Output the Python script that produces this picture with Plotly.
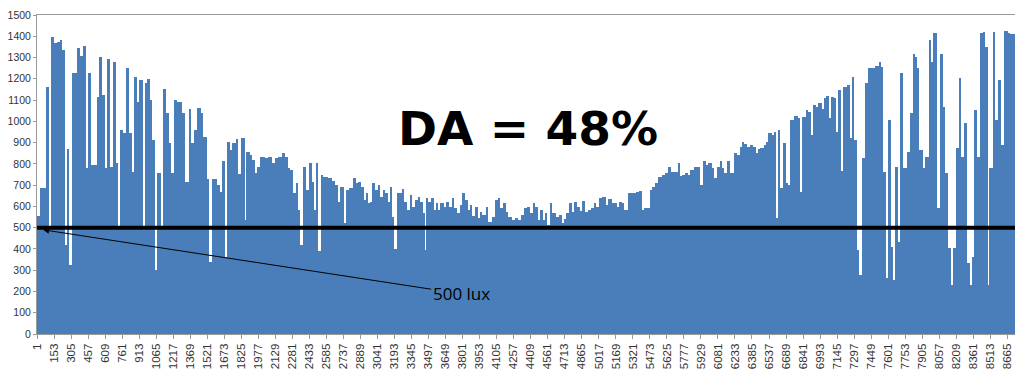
import plotly.graph_objects as go

# Hourly illuminance (lux), as runs: each run starts at the given hour
run_start_hour = [
    1, 28, 81, 108, 126, 153, 180, 206, 224, 251,
    269, 287, 314, 358, 385, 412, 439, 456, 483, 537,
    555, 581, 608, 626, 653, 680, 706, 724, 742, 769,
    796, 823, 849, 867, 894, 912, 948, 965, 983, 1010,
    1028, 1055, 1073, 1108, 1126, 1153, 1180, 1198, 1224, 1251,
    1296, 1323, 1358, 1376, 1403, 1430, 1466, 1483, 1519, 1537,
    1564, 1608, 1635, 1653, 1680, 1698, 1724, 1742, 1778, 1796,
    1823, 1858, 1867, 1903, 1921, 1948, 1966, 1992, 2037, 2064,
    2100, 2126, 2153, 2189, 2216, 2242, 2260, 2287, 2314, 2332,
    2350, 2376, 2403, 2430, 2457, 2475, 2492, 2510, 2537, 2555,
    2600, 2635, 2662, 2689, 2707, 2742, 2760, 2787, 2823, 2850,
    2868, 2894, 2921, 2939, 2957, 2975, 2993, 3019, 3046, 3064,
    3091, 3109, 3135, 3153, 3171, 3189, 3216, 3260, 3278, 3305,
    3332, 3350, 3377, 3403, 3421, 3448, 3457, 3475, 3493, 3519,
    3546, 3564, 3582, 3600, 3636, 3653, 3680, 3707, 3725, 3752,
    3778, 3796, 3823, 3850, 3868, 3886, 3912, 3939, 3957, 3975,
    4011, 4028, 4064, 4091, 4118, 4136, 4162, 4189, 4207, 4243,
    4270, 4296, 4323, 4350, 4377, 4404, 4430, 4448, 4475, 4493,
    4520, 4537, 4555, 4582, 4600, 4636, 4662, 4689, 4707, 4725,
    4752, 4779, 4796, 4823, 4850, 4868, 4895, 4921, 4948, 4975,
    4993, 5020, 5046, 5082, 5100, 5136, 5154, 5180, 5198, 5225,
    5243, 5279, 5350, 5377, 5404, 5422, 5475, 5493, 5520, 5547,
    5582, 5609, 5636, 5663, 5689, 5725, 5743, 5761, 5788, 5814,
    5832, 5868, 5886, 5922, 5948, 5975, 5993, 6029, 6047, 6073,
    6100, 6118, 6136, 6163, 6189, 6225, 6252, 6279, 6297, 6314,
    6341, 6368, 6395, 6422, 6440, 6457, 6493, 6511, 6529, 6565,
    6582, 6600, 6618, 6636, 6663, 6690, 6707, 6725, 6761, 6797,
    6815, 6832, 6868, 6886, 6913, 6931, 6957, 6975, 7011, 7029,
    7047, 7074, 7091, 7118, 7136, 7154, 7181, 7199, 7234, 7261,
    7279, 7297, 7324, 7341, 7368, 7395, 7422, 7484, 7520, 7529,
    7556, 7583, 7600, 7627, 7645, 7663, 7690, 7708, 7734, 7770,
    7797, 7824, 7842, 7859, 7877, 7913, 7931, 7967, 7984, 8002,
    8038, 8065, 8092, 8109, 8136, 8163, 8181, 8208, 8234, 8252,
    8279, 8306, 8333, 8351, 8368, 8395, 8422, 8449, 8467, 8493,
    8502, 8538, 8556, 8583, 8610, 8636, 8672, 8690, 8717,
]
run_lux = [
    555, 688, 1161, 505, 1398, 1370, 1374, 1382, 1335, 420,
    870, 325, 1226, 1343, 1306, 1356, 779, 1228, 795, 1113,
    1303, 1124, 780, 1292, 787, 1280, 802, 505, 959, 943,
    1250, 943, 763, 1207, 1092, 1195, 505, 1180, 1198, 1100,
    912, 300, 756, 503, 1150, 1038, 897, 756, 1100, 1092,
    1038, 716, 1056, 900, 959, 1065, 1038, 925, 730, 340,
    727, 700, 669, 815, 363, 905, 866, 897, 918, 752,
    922, 536, 857, 842, 818, 755, 787, 834, 826, 834,
    806, 826, 834, 853, 830, 779, 771, 661, 708, 583,
    420, 784, 677, 802, 716, 583, 802, 390, 748, 740,
    732, 721, 700, 622, 693, 520, 677, 685, 732, 708,
    716, 693, 630, 665, 614, 622, 712, 677, 700, 646,
    677, 665, 622, 693, 552, 400, 665, 680, 622, 583,
    654, 599, 630, 646, 622, 568, 396, 638, 622, 638,
    583, 614, 583, 614, 599, 622, 599, 638, 591, 568,
    607, 661, 630, 583, 607, 556, 599, 544, 572, 560,
    599, 528, 552, 630, 638, 591, 614, 575, 552, 536,
    546, 536, 560, 591, 599, 568, 618, 599, 536, 583,
    536, 568, 513, 614, 568, 552, 560, 520, 540, 568,
    618, 575, 622, 599, 580, 627, 572, 583, 591, 614,
    599, 638, 643, 607, 635, 618, 614, 599, 622, 614,
    583, 665, 669, 672, 583, 591, 677, 693, 708, 740,
    748, 755, 787, 763, 760, 805, 745, 748, 759, 748,
    771, 784, 787, 700, 815, 795, 802, 779, 732, 787,
    815, 779, 755, 815, 759, 850, 842, 881, 905, 893,
    881, 889, 881, 850, 868, 873, 889, 901, 944, 936,
    952, 544, 960, 685, 897, 708, 700, 1006, 1025, 1014,
    669, 1022, 1053, 1045, 936, 1077, 1069, 1084, 1056, 1108,
    1119, 1014, 1116, 1112, 952, 1147, 768, 1163, 1170, 921,
    1207, 912, 395, 277, 826, 1180, 1250, 1260, 1281, 1254,
    762, 263, 1006, 410, 254, 785, 433, 1226, 779, 857,
    1038, 1318, 1303, 1250, 865, 779, 833, 1382, 1280, 1415,
    592, 1318, 1069, 755, 403, 230, 403, 873, 1203, 833,
    990, 332, 230, 364, 1053, 833, 1415, 1420, 1350, 230,
    779, 1420, 1006, 1194, 889, 1425, 1415, 1410, 1413,
]
last_hour = 8760
threshold_lux = 500
da_label = "DA = 48%"
threshold_label = "500 lux"

x_tick_hours = list(range(1, 8761, 152))
x_tick_text = [str(h) for h in x_tick_hours]
y_ticks = list(range(0, 1501, 100))

n = min(len(run_start_hour), len(run_lux))
ends = run_start_hour[1:n] + [last_hour + 1]
starts = run_start_hour[:n]
widths = [e - s for s, e in zip(starts, ends)]
centers = [s - 0.5 + w / 2 for s, w in zip(starts, widths)]

fig = go.Figure()
fig.add_trace(go.Bar(
    x=centers, y=run_lux[:n], width=widths,
    marker=dict(color="#4A7EBB", line=dict(width=0)),
    hoverinfo="skip", showlegend=False,
))

fig.add_shape(type="line", xref="x", yref="y",
              x0=0.5, x1=8735, y0=threshold_lux, y1=threshold_lux,
              line=dict(color="black", width=4))

fig.add_annotation(
    x=0.5005, y=0.645, xref="paper", yref="paper",
    text=da_label, showarrow=False,
    font=dict(family="DejaVu Sans, sans-serif", size=47, color="black", weight=900),
)

fig.add_annotation(
    x=55, y=490, xref="x", yref="y",
    text=threshold_label, showarrow=True,
    ax=418, ay=64, axref="pixel", ayref="pixel",
    arrowhead=2, arrowsize=1.2, arrowwidth=1, arrowcolor="black",
    font=dict(family="Open Sans, Noto Sans, sans-serif", size=17, color="black"),
)

axis_line = "#9A9A9A"
# the page body adds an 8 px margin around the figure, so the figure is sized to fit inside it
fig.update_layout(
    width=1015, height=371,
    margin=dict(l=29, r=5, t=7, b=45),
    paper_bgcolor="white", plot_bgcolor="white",
    bargap=0,
    font=dict(family="Liberation Sans, Arial, sans-serif", color="#333333"),
    xaxis=dict(
        range=[0.5, last_hour + 0.5],
        tickmode="array", tickvals=x_tick_hours, ticktext=x_tick_text,
        tickangle=-90, tickfont=dict(size=11.5, color="#333333"),
        ticks="outside", ticklen=4, tickcolor=axis_line,
        showline=True, linecolor=axis_line, linewidth=1, mirror=True,
        showgrid=False, zeroline=False, automargin=False,
    ),
    yaxis=dict(
        range=[0, 1500],
        tickmode="array", tickvals=y_ticks,
        tickfont=dict(size=10.5, color="#333333"),
        ticks="outside", ticklen=3, tickcolor=axis_line,
        ticklabelstandoff=0,
        showline=True, linecolor=axis_line, linewidth=1, mirror=True,
        showgrid=False, zeroline=False, automargin=False,
    ),
)

fig.write_html("out.html")
